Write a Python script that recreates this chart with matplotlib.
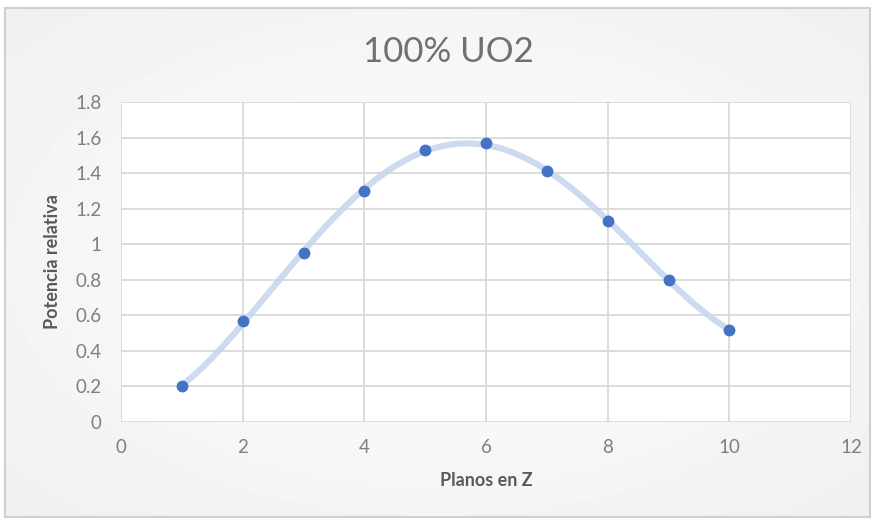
import matplotlib.pyplot as plt
import matplotlib.patches as mpatches
from matplotlib.ticker import MultipleLocator
import numpy as np

# data
planos = [1, 2, 3, 4, 5, 6, 7, 8, 9, 10]
potencia = [0.20, 0.57, 0.95, 1.30, 1.53, 1.57, 1.41, 1.13, 0.80, 0.52]

TEXT = "#595959"
TICK = "#7f7f7f"
GRID = "#d9d9d9"
BLUE = "#4472c4"

plt.rcParams["font.family"] = ["Lato", "DejaVu Sans"]

fig = plt.figure(figsize=(8.75, 5.22), dpi=100)
fig.patch.set_facecolor("white")

# chart area with soft grey gradient and frame
bg = fig.add_axes([0, 0, 1, 1], zorder=-10)
bg.set_axis_off()
gx, gy = np.meshgrid(np.linspace(-1, 1, 200), np.linspace(-1, 1, 120))
r = np.sqrt(gx**2 + gy**2)
bg.imshow(1.0 - 0.06 * np.clip(r, 0, 1.4) / 1.4, cmap="gray", vmin=0, vmax=1,
          extent=[5 / 875, 870 / 875, 5 / 522, 514 / 522], aspect="auto")
bg.set_xlim(0, 1)
bg.set_ylim(0, 1)
bg.add_patch(mpatches.Rectangle((5 / 875, 5 / 522), 865 / 875, 509 / 522,
                                fill=False, edgecolor="#d0d0d0", linewidth=1.5))

ax = fig.add_axes([121 / 875, 1 - 422 / 522, 730 / 875, 320 / 522])
ax.set_facecolor("white")

# smooth trend through the points
coef = np.polyfit(planos, potencia, 4)
xs = np.linspace(min(planos), max(planos), 300)
ax.plot(xs, np.polyval(coef, xs), color="#c5d4ee", linewidth=4.5, alpha=0.85,
        solid_capstyle="round", zorder=2)
ax.plot(planos, potencia, "o", color=BLUE, markersize=7.5, zorder=3)

ax.set_xlim(0, 12)
ax.set_ylim(0, 1.8)
ax.xaxis.set_major_locator(MultipleLocator(2))
ax.yaxis.set_major_locator(MultipleLocator(0.2))
ax.yaxis.set_major_formatter(lambda v, p: f"{v:.1f}".rstrip("0").rstrip(".") if v else "0")
ax.grid(True, color=GRID, linewidth=1.3)
ax.set_axisbelow(True)
for s in ax.spines.values():
    s.set_visible(False)
ax.tick_params(length=0, labelsize=13.5, labelcolor=TICK)
ax.tick_params(axis="y", pad=14)
ax.tick_params(axis="x", pad=12)

ax.set_xlabel("Planos en Z", fontsize=13, fontweight="bold", color=TEXT, labelpad=12)
ax.set_ylabel("Potencia relativa", fontsize=13, fontweight="bold", color=TEXT, labelpad=10)

fig.text(448 / 875, 1 - 52 / 522, "100% UO2", fontsize=25, color="#707070",
         ha="center", va="center")

fig.savefig("out.png", dpi=100)
